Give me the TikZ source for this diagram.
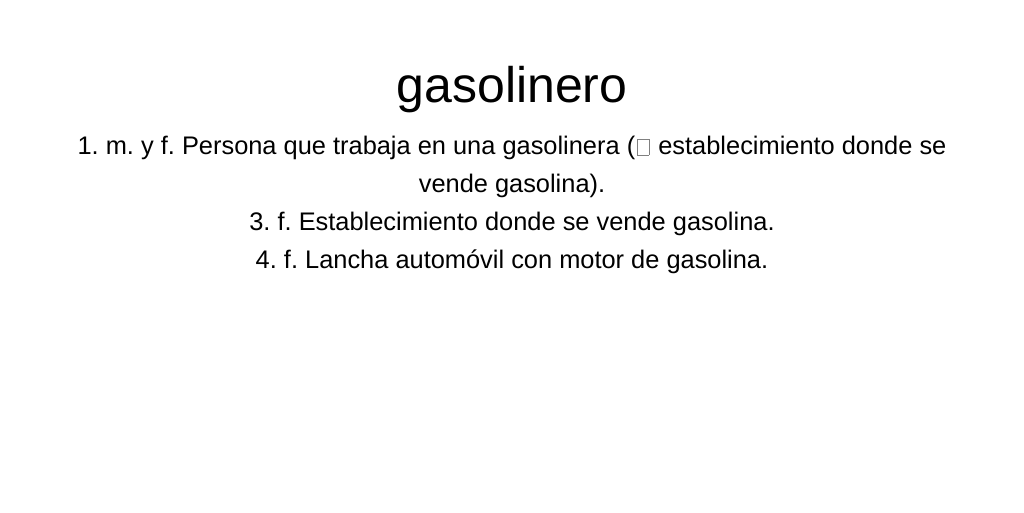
\documentclass[tikz,border=0pt]{standalone}
\usepackage{fontspec}
\setmainfont{Liberation Sans}
\frenchspacing
\newcommand{\tofubox}{\kern2pt{\color{black!50}\setlength{\fboxsep}{0pt}\setlength{\fboxrule}{0.5pt}\fbox{\hbox to 11pt{\vrule height 15pt depth 0pt width 0pt\hss}}}\kern2pt}
\begin{document}
\begin{tikzpicture}[x=1pt,y=-1pt,
  title/.style={anchor=base, inner sep=0pt, font=\fontsize{50}{60}\selectfont},
  defline/.style={anchor=base, inner sep=0pt, font=\fontsize{25.4}{30}\selectfont}]
\useasboundingbox[fill=white] (0,0) rectangle (1024,512);
\node[title] (t) at (512,102) {gasolinero};
\node[defline] (l1) at (512,154.5) {1. m. y f. Persona que trabaja en una gasolinera (\tofubox{} establecimiento donde se};
\node[defline] (l2) at (512,192.5) {vende gasolina).};
\node[defline] (l3) at (512,230) {3. f. Establecimiento donde se vende gasolina.};
\node[defline] (l4) at (512,268) {4. f. Lancha automóvil con motor de gasolina.};
\end{tikzpicture}
\end{document}
